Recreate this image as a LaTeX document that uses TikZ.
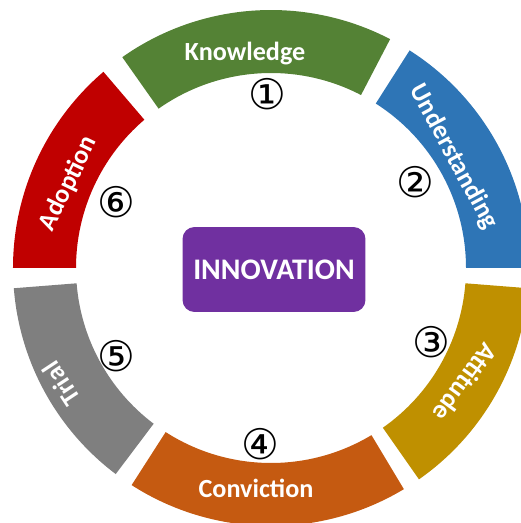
\documentclass[tikz,border=0pt]{standalone}
\usepackage{fontspec}
\usepackage{tikz}
\newfontfamily\carlito{Carlito}
\newfontfamily\dejavu{DejaVu Sans}
\usepackage{xcolor}
\definecolor{knowledge}{RGB}{84,130,53}
\definecolor{understanding}{RGB}{46,117,182}
\definecolor{attitude}{RGB}{191,144,0}
\definecolor{conviction}{RGB}{197,90,17}
\definecolor{trial}{RGB}{127,127,127}
\definecolor{adoption}{RGB}{192,0,0}
\definecolor{innovation}{RGB}{112,48,160}

\begin{document}
\begin{tikzpicture}[x=0.02cm, y=0.02cm,
    etiqueta/.style={text=white, inner sep=0pt,
      font=\carlito\bfseries\fontsize{14.9}{17}\selectfont},
    circnum/.style={inner sep=0pt, font=\dejavu\fontsize{24}{26}\selectfont}]
    \useasboundingbox (-271,-255) rectangle (249,268);

    % anillo: seis sectores (angulo inicial/final)
    \foreach \a/\b/\col in {62.5/125.2/knowledge, 130.5/180/adoption,
        184.5/233/trial, 237.3/301/conviction, 305/355.5/attitude,
        0/57.5/understanding}
      \fill[fill=\col] (\a:258) arc[start angle=\a, end angle=\b, radius=258]
        -- (\b:195) arc[start angle=\b, end angle=\a, radius=195] -- cycle;

    % nombres de cada fase, girados con el anillo
    \node[etiqueta] (know) at (-26,214) {Knowledge};
    \node[etiqueta, rotate=-61.7] (under) at (183,111) {Understanding};
    \node[etiqueta, rotate=233.7] (atti) at (194.5,-114.5) {Attitude};
    \node[etiqueta] (conv) at (-15,-220) {Conviction};
    \node[etiqueta, rotate=123.4] (tria) at (-209.5,-116) {Trial};
    \node[etiqueta, rotate=64.2] (adop) at (-202.5,84.5) {Adoption};

    % numeros de paso
    \node[circnum] (n1) at (-4,173.5) {①};
    \node[circnum] (n2) at (144,85.5) {②};
    \node[circnum] (n3) at (160,-74) {③};
    \node[circnum] (n4) at (-11,-176) {④};
    \node[circnum] (n5) at (-155,-88) {⑤};
    \node[circnum] (n6) at (-155,66) {⑥};

    \node[fill=innovation, rounded corners=0.24cm, minimum width=3.66cm,
      minimum height=1.7cm, text=white,
      font=\carlito\bfseries\fontsize{17}{19}\selectfont] (innov) at (3,-1.5) {INNOVATION};
\end{tikzpicture}
\end{document}
